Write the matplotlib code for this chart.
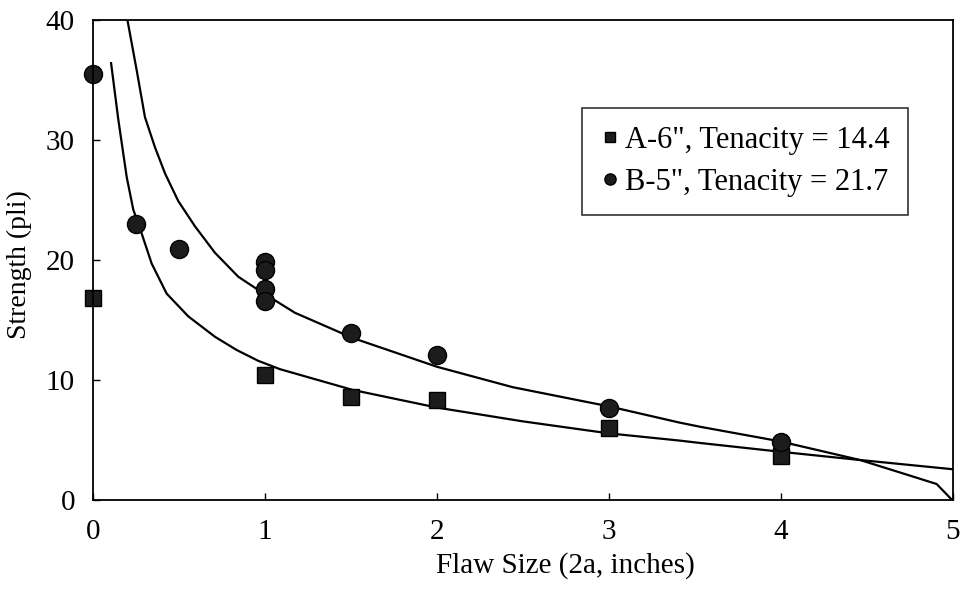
import numpy as np
import matplotlib
matplotlib.use("Agg")
import matplotlib.pyplot as plt

plt.rcParams['font.family'] = ['Liberation Serif', 'DejaVu Serif']

# measured points
a_x = [0, 1, 1.5, 2, 3, 4]
a_y = [16.8, 10.4, 8.6, 8.3, 6.0, 3.7]
b_x = [0, 0.25, 0.5, 1, 1, 1, 1, 1.5, 2, 3, 4]
b_y = [35.5, 23.0, 20.9, 19.8, 19.2, 17.6, 16.6, 13.9, 12.1, 7.7, 4.85]

# fitted curves
fit_a_x = [0.105, 0.147, 0.196, 0.234, 0.283, 0.341, 0.428, 0.554, 0.709, 0.835,
           0.96, 1.087, 1.51, 2.0, 2.5, 3.0, 3.41, 3.53, 3.99, 4.46, 5.0]
fit_a_y = [36.4, 31.7, 26.9, 24.2, 22.2, 19.7, 17.2, 15.3, 13.6, 12.5,
           11.6, 10.9, 9.17, 7.7, 6.55, 5.55, 4.95, 4.75, 4.03, 3.33, 2.56]
fit_b_x = [0.20, 0.254, 0.302, 0.360, 0.419, 0.496, 0.593, 0.709, 0.845, 0.961,
           1.174, 1.51, 2.0, 2.44, 3.0, 3.41, 3.53, 3.99, 4.46, 4.77, 4.905, 4.995]
fit_b_y = [40, 35.8, 31.9, 29.4, 27.2, 24.9, 22.8, 20.6, 18.6, 17.5,
           15.6, 13.5, 11.1, 9.4, 7.8, 6.45, 6.1, 4.9, 3.33, 1.94, 1.33, 0]

fig = plt.figure(figsize=(9.63, 5.95), dpi=100)
ax = fig.add_axes([0.0966, 0.1597, 0.893, 0.8067])

ax.plot(fit_a_x, fit_a_y, color='black', lw=1.6)
ax.plot(fit_b_x, fit_b_y, color='black', lw=1.6)
ax.plot(a_x, a_y, 's', color='#1c1c1c', ms=12, mec='black', ls='none',
        label='A-6", Tenacity = 14.4', clip_on=False)
ax.plot(b_x, b_y, 'o', color='#1c1c1c', ms=13, mec='black', ls='none',
        label='B-5", Tenacity = 21.7', clip_on=False)

ax.set_xlim(0, 5)
ax.set_ylim(0, 40)
ax.set_xticks([0, 1, 2, 3, 4, 5])
ax.set_yticks([0, 10, 20, 30, 40])
ax.tick_params(direction='in', length=5, width=1, labelsize=21)
ax.tick_params(axis='x', pad=14)
ax.tick_params(axis='y', pad=13)
for s in ax.spines.values():
    s.set_linewidth(1.3)

ax.set_xlabel('Flaw Size (2a, inches)', fontsize=21, labelpad=5)
ax.xaxis.label.set_x(0.549)
ax.set_ylabel('Strength (pli)', fontsize=20, labelpad=10)
ax.yaxis.label.set_y(0.49)

leg = ax.legend(loc='upper right', bbox_to_anchor=(0.948, 0.817), fontsize=22,
                frameon=True, fancybox=False, edgecolor='black', markerscale=0.62,
                handletextpad=0.2, handlelength=0.6, borderpad=0.6, labelspacing=0.42,
                borderaxespad=0)
leg.get_frame().set_linewidth(1.2)

fig.savefig('out.png', dpi=100)
